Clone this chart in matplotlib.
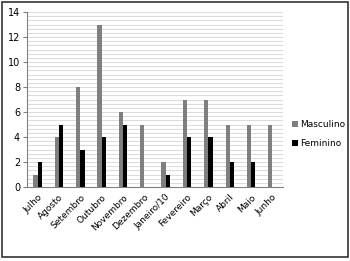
import numpy as np
import matplotlib
matplotlib.use("Agg")
import matplotlib.pyplot as plt
from matplotlib.patches import Rectangle

meses = ['Julho', 'Agosto', 'Setembro', 'Outubro', 'Novembro', 'Dezembro',
         'Janeiro/10', 'Fevereiro', 'Março', 'Abril', 'Maio', 'Junho']
masculino = [1, 4, 8, 13, 6, 5, 2, 7, 7, 5, 5, 5]
feminino = [2, 5, 3, 4, 5, 0, 1, 4, 4, 2, 2, 0]

fig = plt.figure(figsize=(3.5, 2.61), dpi=100)
ax = fig.add_axes([0.077, 0.283, 0.732, 0.671])

x = np.arange(len(meses))
w = 0.2
ax.bar(x - w / 2, masculino, w, color='#7f7f7f', label='Masculino', zorder=3)
ax.bar(x + w / 2, feminino, w, color='#000000', label='Feminino', zorder=3)

ax.set_xlim(-0.5, len(meses) - 0.5)
ax.set_ylim(0, 14)
ax.set_yticks(np.arange(0, 15, 2))
ax.set_yticks(np.arange(0, 14, 1 / 3), minor=True)
ax.grid(axis='y', which='both', color='#dcdcdc', linewidth=0.8, zorder=0)
ax.tick_params(axis='y', which='minor', length=0)
ax.tick_params(axis='y', labelsize=7, length=3, color='#808080', pad=2)
ax.set_xticks(x)
ax.set_xticklabels(meses, rotation=45, ha='right', rotation_mode='anchor', fontsize=6.5)
ax.tick_params(axis='x', length=0, pad=4)

for s in ['top', 'right']:
    ax.spines[s].set_visible(False)
ax.spines['left'].set_color('#808080')
ax.spines['bottom'].set_color('#808080')

ax.legend(loc='center left', bbox_to_anchor=(0.835, 0.485), bbox_transform=fig.transFigure,
          frameon=False, fontsize=6.5, handlelength=0.6, handleheight=0.6,
          handletextpad=0.3, labelspacing=1.1, borderpad=0, borderaxespad=0)

fig.patches.append(Rectangle((0.006, 0.015), 0.988, 0.977, transform=fig.transFigure,
                             fill=False, edgecolor='#333333', linewidth=1.2))

fig.savefig('out.png', dpi=100)
